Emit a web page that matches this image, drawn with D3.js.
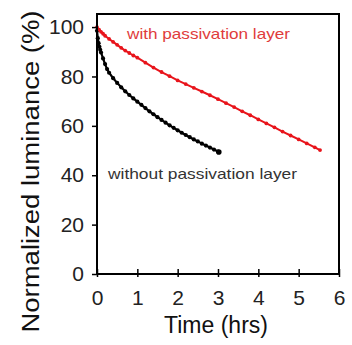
<!DOCTYPE html>
<html>
<head>
<meta charset="utf-8">
<script src="https://cdn.jsdelivr.net/npm/d3@7"></script>
<style>
  body { margin: 0; background: #fff; }
  text { font-family: "Liberation Sans", Arial, sans-serif; }
</style>
</head>
<body>
<script>
// data
var withTime = [0, 0.05, 0.1, 0.15, 0.2, 0.3, 0.4, 0.5, 0.6, 0.7, 0.8, 0.9, 1.0,
  1.2, 1.4, 1.6, 1.8, 2.0, 2.2, 2.4, 2.6, 2.8, 3.0, 3.2, 3.4, 3.6, 3.8, 4.0,
  4.2, 4.4, 4.6, 4.8, 5.0, 5.2, 5.4, 5.53];
var withLum = [100, 99.0, 98.1, 97.3, 96.5, 95.2, 94.0, 92.8, 91.6, 90.5, 89.5, 88.5, 87.6,
  85.6, 83.6, 81.8, 80.1, 78.4, 76.9, 75.4, 73.9, 72.4, 70.8, 69.2, 67.6, 65.9, 64.3, 62.6,
  61.0, 59.4, 57.7, 56.1, 54.5, 52.9, 51.3, 50.2];

var withoutTime = [0, 0.02, 0.04, 0.06, 0.08, 0.1, 0.15, 0.2, 0.25, 0.3, 0.4, 0.5, 0.6,
  0.7, 0.8, 0.9, 1.0, 1.1, 1.2, 1.3, 1.4, 1.5, 1.6, 1.7, 1.8, 1.9, 2.0, 2.1, 2.2,
  2.3, 2.4, 2.5, 2.6, 2.7, 2.8, 2.9, 3.0, 3.02];
var withoutLum = [98.5, 95.5, 93.5, 92.0, 90.8, 89.7, 87.3, 85.0, 83.0, 81.5, 79.3, 77.4, 75.6,
  74.0, 72.5, 71.1, 69.8, 68.5, 67.2, 65.9, 64.7, 63.5, 62.4, 61.3, 60.2, 59.2, 58.2, 57.2, 56.3,
  55.4, 54.5, 53.7, 52.8, 52.0, 51.2, 50.4, 49.6, 49.4];

var xTicks = [0, 1, 2, 3, 4, 5, 6];
var yTicks = [0, 20, 40, 60, 80, 100];

var margin = {top: 14, right: 13, bottom: 71, left: 97},
    width = 352 - margin.left - margin.right,
    height = 345 - margin.top - margin.bottom;

var x = d3.scaleLinear().domain([0, 6]).range([0, width]);
var y = d3.scaleLinear().domain([0, 105.3]).range([height, 0]);

var svg = d3.select("body").append("svg")
    .attr("width", 352)
    .attr("height", 345)
  .append("g")
    .attr("transform", "translate(" + margin.left + "," + margin.top + ")");

function pts(ts, vs) {
  return ts.map(function(t, i) { return {t: t, v: vs[i]}; });
}
var redData = pts(withTime, withLum);
var blackData = pts(withoutTime, withoutLum);

var line = d3.line()
    .x(function(d) { return x(d.t); })
    .y(function(d) { return y(d.v); });

// black curve
svg.append("path")
    .datum(blackData)
    .attr("fill", "none")
    .attr("stroke", "#000")
    .attr("stroke-width", 2.2)
    .attr("d", line);
svg.selectAll(".bdot").data(blackData).enter().append("circle")
    .attr("cx", function(d) { return x(d.t); })
    .attr("cy", function(d) { return y(d.v); })
    .attr("r", function(d, i) { return i == blackData.length - 1 ? 2.8 : 2.1; })
    .attr("fill", "#000");

// red curve
svg.append("path")
    .datum(redData)
    .attr("fill", "none")
    .attr("stroke", "#e8141b")
    .attr("stroke-width", 2)
    .attr("d", line);
svg.selectAll(".rdot").data(redData).enter().append("circle")
    .attr("cx", function(d) { return x(d.t); })
    .attr("cy", function(d) { return y(d.v); })
    .attr("r", 1.9)
    .attr("fill", "#e8141b");

// frame
svg.append("rect")
    .attr("width", width)
    .attr("height", height)
    .attr("fill", "none")
    .attr("stroke", "#000")
    .attr("stroke-width", 2);

// axes
var xAxis = svg.append("g")
    .attr("transform", "translate(0," + height + ")")
    .call(d3.axisBottom(x).tickValues(xTicks).tickFormat(d3.format("d"))
      .tickSizeInner(-5).tickSizeOuter(0).tickPadding(16));
var yAxis = svg.append("g")
    .call(d3.axisLeft(y).tickValues(yTicks).tickFormat(d3.format("d"))
      .tickSizeInner(5).tickSizeOuter(0).tickPadding(8));

[xAxis, yAxis].forEach(function(a) {
  a.select(".domain").remove();
  a.selectAll(".tick line").attr("stroke", "#000").attr("stroke-width", 1.5);
  a.selectAll(".tick text").style("font-size", "21px").attr("fill", "#222");
});
// small outward stubs on x ticks
xAxis.selectAll(".tick").append("line")
    .attr("y1", 0).attr("y2", 3)
    .attr("stroke", "#000").attr("stroke-width", 1.5);

// axis titles
svg.append("text")
    .attr("x", width / 2 - 2)
    .attr("y", height + 59)
    .attr("text-anchor", "middle")
    .style("font-size", "23px")
    .attr("fill", "#111")
    .text("Time (hrs)");

svg.append("text")
    .attr("transform", "translate(" + (39 - margin.left) + "," + (171.5 - margin.top) + ") rotate(-90)")
    .attr("text-anchor", "middle")
    .style("font-size", "23px")
    .attr("textLength", 322)
    .attr("lengthAdjust", "spacingAndGlyphs")
    .attr("fill", "#111")
    .text("Normalized luminance (%)");

// curve labels
svg.append("text")
    .attr("x", 127 - margin.left)
    .attr("y", 39 - margin.top)
    .style("font-size", "15px")
    .attr("textLength", 163)
    .attr("lengthAdjust", "spacingAndGlyphs")
    .attr("fill", "#e03c3c")
    .text("with passivation layer");

svg.append("text")
    .attr("x", 108 - margin.left)
    .attr("y", 179 - margin.top)
    .style("font-size", "15px")
    .attr("textLength", 189)
    .attr("lengthAdjust", "spacingAndGlyphs")
    .attr("fill", "#333")
    .text("without passivation layer");
</script>
</body>
</html>
